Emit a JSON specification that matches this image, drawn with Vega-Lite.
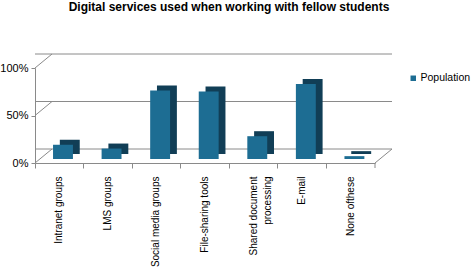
{
  "$schema": "https://vega.github.io/schema/vega-lite/v6.json",
  "width": 340,
  "height": 95,
  "autosize": {"type": "none"},
  "padding": {"left": 35, "top": 68, "right": 96, "bottom": 105},
  "background": "white",
  "title": {
    "text": "Digital services used when working with fellow students",
    "font": "Liberation Sans",
    "fontSize": 12,
    "fontWeight": "bold",
    "color": "black",
    "anchor": "middle",
    "dx": 24,
    "offset": 40
  },
  "config": {"view": {"stroke": null}, "font": "Liberation Sans"},
  "datasets": {
    "services": [
      {"service": "Intranet groups", "pct": 15},
      {"service": "LMS groups", "pct": 11},
      {"service": "Social media groups", "pct": 72},
      {"service": "File-sharing tools", "pct": 71},
      {"service": "Shared document processing", "pct": 24},
      {"service": "E-mail", "pct": 79},
      {"service": "None ofthese", "pct": 3}
    ],
    "levels": [{"v": 0}, {"v": 50}, {"v": 100}]
  },
  "layer": [
    {
      "data": {"name": "levels"},
      "mark": {"type": "rule", "color": "#8a8a8a", "strokeWidth": 1, "xOffset": 17, "x2Offset": 17, "yOffset": -14},
      "encoding": {
        "y": {
          "field": "v",
          "type": "quantitative",
          "scale": {"domain": [0, 100]},
          "axis": {
            "title": null,
            "values": [0, 50, 100],
            "labelExpr": "datum.value + '%'",
            "grid": false,
            "domainColor": "#8a8a8a",
            "tickColor": "#8a8a8a",
            "tickSize": 4,
            "labelPadding": 3,
            "labelFontSize": 11,
            "labelColor": "black",
            "labelFont": "Liberation Sans"
          }
        }
      }
    },
    {
      "data": {"name": "levels"},
      "mark": {"type": "rule", "color": "#8a8a8a", "strokeWidth": 1, "x2Offset": 17, "y2Offset": -14},
      "encoding": {
        "x": {"datum": 0, "type": "quantitative", "scale": {"domain": [0, 1]}, "axis": null},
        "x2": {"datum": 0},
        "y": {"field": "v", "type": "quantitative"},
        "y2": {"field": "v"}
      }
    },
    {
      "data": {"name": "levels"},
      "transform": [{"filter": "datum.v == 0"}],
      "mark": {"type": "rule", "color": "#8a8a8a", "strokeWidth": 1, "x2Offset": 17, "y2Offset": -14},
      "encoding": {
        "x": {"datum": 1, "type": "quantitative", "scale": {"domain": [0, 1]}, "axis": null},
        "x2": {"datum": 1},
        "y": {"field": "v", "type": "quantitative"},
        "y2": {"field": "v"}
      }
    },
    {
      "data": {"name": "levels"},
      "transform": [{"filter": "datum.v == 0"}],
      "mark": {"type": "rule", "color": "#8a8a8a", "strokeWidth": 1, "y2Offset": 5},
      "encoding": {
        "x": {"datum": 1, "type": "quantitative", "scale": {"domain": [0, 1]}, "axis": null},
        "y": {"field": "v", "type": "quantitative"},
        "y2": {"field": "v"}
      }
    },
    {
      "data": {"name": "services"},
      "layer": [
        {
          "mark": {"type": "bar", "color": "#113e56", "width": {"band": 0.41}, "xOffset": 10.5, "x2Offset": 10.5, "yOffset": -9, "y2Offset": -9},
          "encoding": {
            "x": {"field": "service", "type": "nominal", "sort": null, "scale": {"paddingInner": 0, "paddingOuter": 0}},
            "y": {"field": "pct", "type": "quantitative"}
          }
        },
        {
          "mark": {"type": "bar", "width": {"band": 0.41}, "xOffset": 3.7, "x2Offset": 3.7, "yOffset": -4, "y2Offset": -4},
          "encoding": {
            "x": {
              "field": "service",
              "type": "nominal",
              "sort": null,
              "scale": {"paddingInner": 0, "paddingOuter": 0},
              "axis": {
                "title": null,
                "labelAngle": -90,
                "labelAlign": "right",
                "labelBaseline": "middle",
                "labelFontSize": 10,
                "labelFont": "Liberation Sans",
                "labelColor": "black",
                "labelPadding": 8,
                "labelLineHeight": 14,
                "labelExpr": "datum.label == 'Shared document processing' ? ['Shared document', 'processing'] : datum.label",
                "tickSize": 5,
                "bandPosition": 0,
                "domainColor": "#8a8a8a",
                "tickColor": "#8a8a8a"
              }
            },
            "y": {"field": "pct", "type": "quantitative"},
            "color": {
              "datum": "Population",
              "scale": {"range": ["#1d6d93"]},
              "legend": {
                "title": null,
                "orient": "none",
                "legendX": 373,
                "legendY": 5,
                "padding": 0,
                "symbolType": "square",
                "symbolSize": 30,
                "symbolStrokeWidth": 0,
                "labelFontSize": 10.5,
                "labelFont": "Liberation Sans",
                "labelColor": "black",
                "labelOffset": 2
              }
            }
          }
        }
      ]
    }
  ],
  "resolve": {"scale": {"x": "independent"}}
}
